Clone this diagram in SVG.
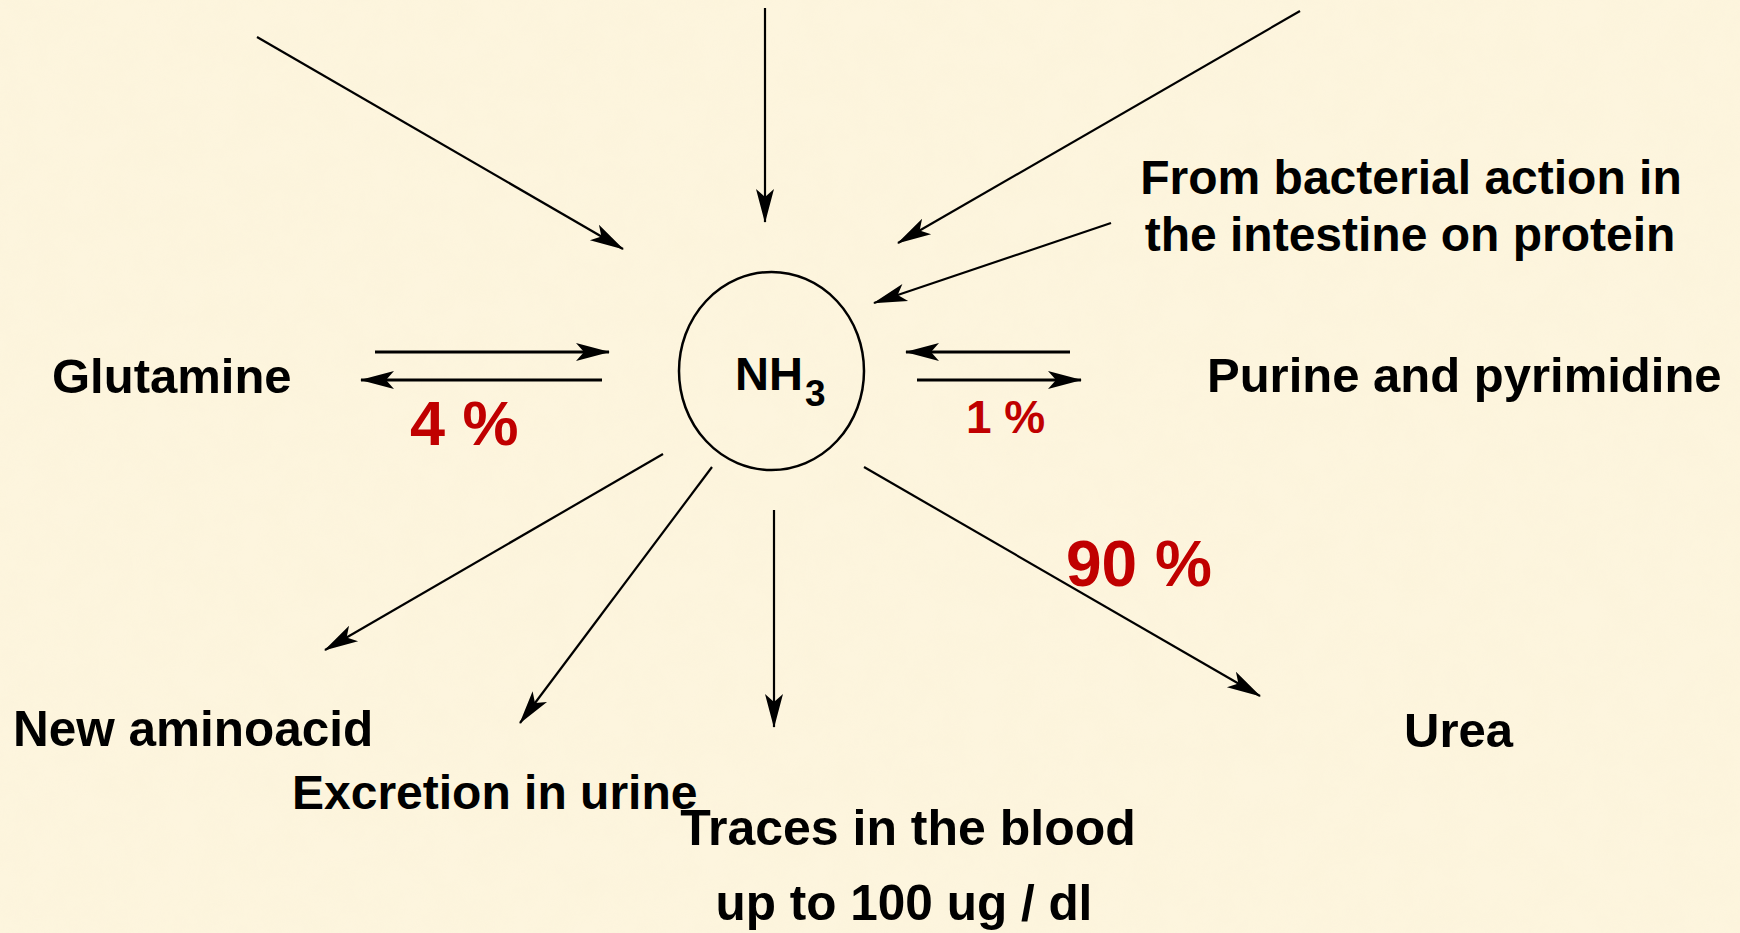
<svg xmlns="http://www.w3.org/2000/svg" width="1740" height="933" viewBox="0 0 1740 933">
<style>
.lbl{font-family:"Liberation Sans",Arial,sans-serif;font-weight:bold;font-size:49px;fill:#000}
.pct{font-family:"Liberation Sans",Arial,sans-serif;font-weight:bold;fill:#C00000}
.conn{stroke:#000;stroke-width:2.2;fill:none;marker-end:url(#ah)}
.thick{stroke-width:3}
</style>
<defs>
<marker id="ah" markerUnits="userSpaceOnUse" viewBox="-36 -11 40 22" refX="0" refY="0" markerWidth="40" markerHeight="22" orient="auto">
<path d="M1,0 L-33,-9 L-25,0 L-33,9 Z" fill="#000"/>
</marker>
<filter id="tex" x="0" y="0" width="100%" height="100%">
<feTurbulence type="fractalNoise" baseFrequency="0.03" numOctaves="3" seed="7"/>
<feColorMatrix type="matrix" values="0 0 0 0 0.95  0 0 0 0 0.88  0 0 0 0 0.68  0 0 0 0.7 -0.15"/>
</filter>
</defs>
<rect width="1740" height="933" fill="#FDF5DE"/>
<rect width="1740" height="933" filter="url(#tex)" opacity="0.6"/>
<g id="connectors">
<path class="conn" d="M257,37 L623,249"/>
<path class="conn" d="M765,8 L765,222"/>
<path class="conn" d="M1300,11 L898,243"/>
<path class="conn" d="M1111,223 L874,303"/>
<path class="conn thick" d="M375,352 L609,352"/>
<path class="conn thick" d="M602,380 L361,380"/>
<path class="conn thick" d="M1070,352 L906,352"/>
<path class="conn thick" d="M917,380 L1081,380"/>
<path class="conn" d="M663,454 L325,650"/>
<path class="conn" d="M712,467 L520,723"/>
<path class="conn" d="M774,510 L774,727"/>
<path class="conn" d="M864,467 L1260,696"/>
</g>
<g id="nh3">
<ellipse cx="771.5" cy="371" rx="92.5" ry="99" fill="none" stroke="#000" stroke-width="2.5"/>
<text class="lbl" x="735" y="390" style="font-size:47px">NH</text>
<text class="lbl" x="805" y="406" style="font-size:37px">3</text>
</g>
<g id="glutamine"><text class="lbl" x="52" y="393">Glutamine</text></g>
<g id="bacterial">
<text class="lbl" x="1411" y="194" text-anchor="middle" style="font-size:48px">From bacterial action in</text>
<text class="lbl" x="1410" y="251" text-anchor="middle" style="font-size:48px">the intestine on protein</text>
</g>
<g id="purine"><text class="lbl" x="1207" y="392">Purine and pyrimidine</text></g>
<g id="new-aminoacid"><text class="lbl" x="13" y="746" style="font-size:49.5px">New aminoacid</text></g>
<g id="excretion"><text class="lbl" x="292" y="809" style="font-size:48px">Excretion in urine</text></g>
<g id="traces">
<text class="lbl" x="908" y="845" text-anchor="middle" style="font-size:50px">Traces in the blood</text>
<text class="lbl" x="904" y="920" text-anchor="middle" style="font-size:49.5px">up to 100 ug / dl</text>
</g>
<g id="urea"><text class="lbl" x="1404" y="747">Urea</text></g>
<g id="pct-4"><text class="pct" x="410" y="445" font-size="63">4 %</text></g>
<g id="pct-1"><text class="pct" x="966" y="433" font-size="46">1 %</text></g>
<g id="pct-90"><text class="pct" x="1066" y="586" font-size="64">90 %</text></g>
</svg>
